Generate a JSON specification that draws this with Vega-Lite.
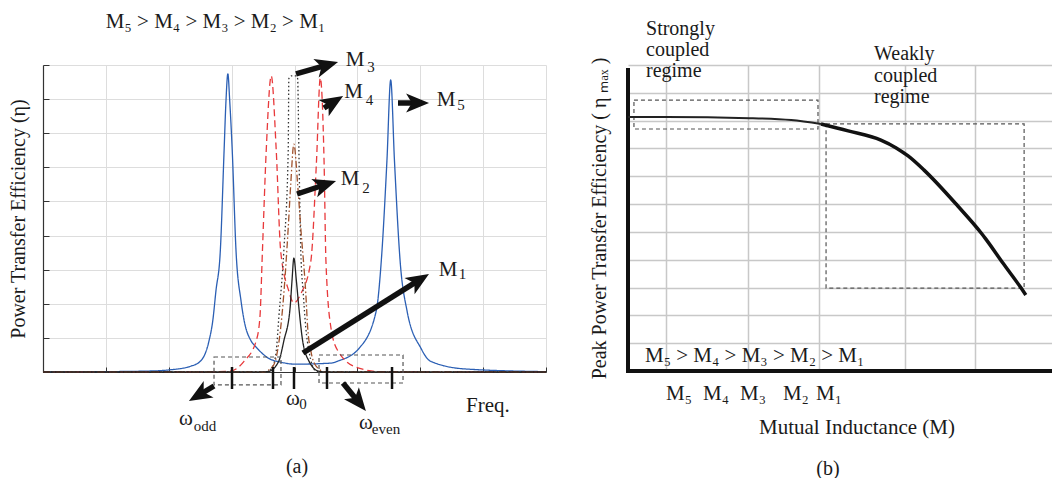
{
  "$schema": "https://vega.github.io/schema/vega-lite/v6.json",
  "background": "white",
  "padding": {"left": 8, "top": 11, "right": 0, "bottom": 0},
  "config": {"view": {"stroke": null}, "font": "Liberation Serif", "text": {"font": "Liberation Serif", "color": "#1a1a1a"}},
  "spacing": 82,
  "bounds": "flush",
  "datasets": {
    "curves_a": [
      {"series":"M5","x":0,"y":0},{"series":"M5","x":1,"y":0.01},{"series":"M5","x":1.72,"y":0.03},{"series":"M5","x":2.0,"y":0.06},{"series":"M5","x":2.35,"y":0.17},{"series":"M5","x":2.51,"y":0.33},{"series":"M5","x":2.64,"y":0.91},{"series":"M5","x":2.70,"y":1.5},{"series":"M5","x":2.75,"y":2.37},{"series":"M5","x":2.82,"y":3.55},{"series":"M5","x":2.88,"y":6.48},{"series":"M5","x":2.91,"y":7.94},{"series":"M5","x":2.94,"y":8.74},{"series":"M5","x":2.97,"y":7.94},{"series":"M5","x":3.01,"y":6.48},{"series":"M5","x":3.07,"y":3.55},{"series":"M5","x":3.15,"y":2.08},{"series":"M5","x":3.20,"y":1.5},{"series":"M5","x":3.31,"y":0.91},{"series":"M5","x":3.39,"y":0.73},{"series":"M5","x":3.58,"y":0.41},{"series":"M5","x":3.78,"y":0.29},{"series":"M5","x":4.01,"y":0.23},{"series":"M5","x":4.58,"y":0.26},{"series":"M5","x":4.69,"y":0.32},{"series":"M5","x":5.03,"y":0.70},{"series":"M5","x":5.30,"y":1.79},{"series":"M5","x":5.38,"y":3.25},{"series":"M5","x":5.47,"y":6.19},{"series":"M5","x":5.53,"y":8.56},{"series":"M5","x":5.59,"y":6.19},{"series":"M5","x":5.68,"y":3.25},{"series":"M5","x":5.79,"y":1.79},{"series":"M5","x":6.01,"y":0.70},{"series":"M5","x":6.16,"y":0.32},{"series":"M5","x":6.71,"y":0.09},{"series":"M5","x":8,"y":0.01},
      {"series":"M4","x":0,"y":0},{"series":"M4","x":2.5,"y":0},{"series":"M4","x":2.99,"y":0.03},{"series":"M4","x":3.20,"y":0.32},{"series":"M4","x":3.39,"y":0.91},{"series":"M4","x":3.45,"y":1.6},{"series":"M4","x":3.49,"y":3.55},{"series":"M4","x":3.55,"y":6.48},{"series":"M4","x":3.63,"y":8.68},{"series":"M4","x":3.71,"y":6.48},{"series":"M4","x":3.78,"y":3.55},{"series":"M4","x":3.91,"y":2.37},{"series":"M4","x":3.99,"y":2.02},{"series":"M4","x":4.10,"y":2.29},{"series":"M4","x":4.26,"y":3.25},{"series":"M4","x":4.35,"y":6.19},{"series":"M4","x":4.41,"y":8.62},{"series":"M4","x":4.47,"y":6.19},{"series":"M4","x":4.50,"y":3.25},{"series":"M4","x":4.58,"y":1.29},{"series":"M4","x":4.69,"y":0.62},{"series":"M4","x":5.01,"y":0.12},{"series":"M4","x":5.38,"y":0.01},{"series":"M4","x":8,"y":0},
      {"series":"M3","x":0,"y":0},{"series":"M3","x":3.55,"y":0},{"series":"M3","x":3.65,"y":0.15},{"series":"M3","x":3.71,"y":0.62},{"series":"M3","x":3.75,"y":1.58},{"series":"M3","x":3.83,"y":3.55},{"series":"M3","x":3.90,"y":6.48},{"series":"M3","x":3.91,"y":8.6},{"series":"M3","x":3.95,"y":8.68},{"series":"M3","x":4.03,"y":8.68},{"series":"M3","x":4.05,"y":8.6},{"series":"M3","x":4.07,"y":6.48},{"series":"M3","x":4.10,"y":3.55},{"series":"M3","x":4.14,"y":2.29},{"series":"M3","x":4.18,"y":1.29},{"series":"M3","x":4.23,"y":0.62},{"series":"M3","x":4.34,"y":0.03},{"series":"M3","x":4.5,"y":0},{"series":"M3","x":8,"y":0},
      {"series":"M2","x":0,"y":0},{"series":"M2","x":3.5,"y":0},{"series":"M2","x":3.66,"y":0.18},{"series":"M2","x":3.73,"y":0.62},{"series":"M2","x":3.78,"y":1.29},{"series":"M2","x":3.83,"y":2.29},{"series":"M2","x":3.90,"y":4.22},{"series":"M2","x":3.94,"y":5.5},{"series":"M2","x":3.99,"y":6.68},{"series":"M2","x":4.05,"y":5.5},{"series":"M2","x":4.10,"y":4.22},{"series":"M2","x":4.18,"y":2.29},{"series":"M2","x":4.21,"y":1.29},{"series":"M2","x":4.26,"y":0.62},{"series":"M2","x":4.34,"y":0.18},{"series":"M2","x":4.5,"y":0},{"series":"M2","x":8,"y":0},
      {"series":"M1","x":0,"y":0},{"series":"M1","x":3.45,"y":0},{"series":"M1","x":3.59,"y":0.02},{"series":"M1","x":3.75,"y":0.32},{"series":"M1","x":3.83,"y":0.91},{"series":"M1","x":3.93,"y":1.88},{"series":"M1","x":3.96,"y":2.67},{"series":"M1","x":3.99,"y":3.34},{"series":"M1","x":4.03,"y":2.67},{"series":"M1","x":4.07,"y":1.88},{"series":"M1","x":4.13,"y":0.91},{"series":"M1","x":4.23,"y":0.32},{"series":"M1","x":4.39,"y":0.02},{"series":"M1","x":4.55,"y":0},{"series":"M1","x":8,"y":0}
    ],
    "arrows_a": [
      {"label":"M3","x":4.024,"y":8.737,"x2":4.498,"y2":8.986,"angle":74},
      {"label":"M4","x":4.469,"y":7.740,"x2":4.601,"y2":7.892,"angle":58},
      {"label":"M5","x":5.646,"y":7.886,"x2":5.937,"y2":7.886,"angle":90},
      {"label":"M2","x":4.040,"y":5.218,"x2":4.468,"y2":5.482,"angle":72},
      {"label":"M1","x":4.135,"y":0.557,"x2":5.967,"y2":2.677,"angle":58},
      {"label":"odd","x":2.720,"y":-0.410,"x2":2.495,"y2":-0.660,"angle":239},
      {"label":"even","x":4.771,"y":-0.322,"x2":5.008,"y2":-0.856,"angle":141}
    ],
    "boxes_a": [
      {"x":2.72,"x2":3.785,"y":0.44,"y2":-0.38},
      {"x":4.39,"x2":5.726,"y":0.498,"y2":-0.322}
    ],
    "ticks_a": [
      {"x":3.006,"y":0.147,"y2":-0.498},{"x":3.658,"y":0.147,"y2":-0.498},{"x":3.992,"y":0.147,"y2":-0.498},{"x":4.517,"y":0.147,"y2":-0.498},{"x":5.551,"y":0.147,"y2":-0.498}
    ],
    "labels_a": [
      {"text":"M₅ > M₄ > M₃ > M₂ >  M₁","x":2.744,"y":10.26},
      {"text":"M","x":4.962,"y":9.147},
      {"text":"M","x":4.938,"y":8.223},
      {"text":"M","x":6.410,"y":7.960},
      {"text":"M","x":4.883,"y":5.658},
      {"text":"M","x":6.441,"y":2.990},
      {"text":"ω","x":3.976,"y":-0.79},
      {"text":"ω","x":2.274,"y":-1.378},
      {"text":"ω","x":5.137,"y":-1.495},
      {"text":"Freq.","x":7.077,"y":-0.997}
    ],
    "captions_a": [
      {"text":"(a)","x":4.040,"y":-2.785}
    ],
    "subs_a": [
      {"text":"3","x":5.217,"y":8.942},
      {"text":"4","x":5.193,"y":7.974},
      {"text":"5","x":6.648,"y":7.828},
      {"text":"2","x":5.137,"y":5.394},
      {"text":"1","x":6.672,"y":2.873},
      {"text":"0","x":4.135,"y":-0.938},
      {"text":"odd","x":2.577,"y":-1.583},
      {"text":"even","x":5.455,"y":-1.671}
    ],
    "curve_b_strong": [
      {"x":0,"y":9.13},{"x":0.894,"y":9.13},{"x":2.85,"y":9.09},{"x":3.84,"y":9.02},{"x":4.54,"y":8.88}
    ],
    "curve_b_weak": [
      {"x":4.54,"y":8.88},{"x":5.18,"y":8.63},{"x":5.95,"y":8.30},{"x":6.31,"y":8.02},{"x":6.59,"y":7.73},{"x":6.96,"y":7.23},{"x":7.76,"y":5.93},{"x":8.31,"y":4.96},{"x":8.42,"y":4.74},{"x":8.82,"y":3.88},{"x":9.25,"y":2.98},{"x":9.36,"y":2.73}
    ],
    "axes_b": [
      {"x":0,"y":0,"x2":0,"y2":10.82},
      {"x":0,"y":0,"x2":9.976,"y2":0}
    ],
    "boxes_b": [
      {"x":0.14,"x2":4.47,"y":9.74,"y2":8.70},
      {"x":4.66,"x2":9.32,"y":8.88,"y2":2.98}
    ],
    "labels_b_center": [
      {"text":"M₅","x":1.20,"y":-0.827},
      {"text":"M₄","x":2.07,"y":-0.827},
      {"text":"M₃","x":2.94,"y":-0.827},
      {"text":"M₂","x":3.95,"y":-0.827},
      {"text":"M₁","x":4.73,"y":-0.827},
      {"text":"Mutual Inductance (M)","x":5.388,"y":-2.049}
    ],
    "captions_b": [
      {"text":"(b)","x":4.706,"y":-3.523}
    ],
    "labels_b_left": [
      {"text":"Strongly","x":0.424,"y":12.29},
      {"text":"coupled","x":0.424,"y":11.54},
      {"text":"regime","x":0.424,"y":10.78},
      {"text":"Weakly","x":5.788,"y":11.39},
      {"text":"coupled","x":5.788,"y":10.62},
      {"text":"regime","x":5.788,"y":9.85}
    ],
    "order_b": [
      {"text":"M₅ > M₄ > M₃ > M₂ >  M₁","x":0.40,"y":0.539}
    ]
  },
  "hconcat": [
    {
      "width": 503,
      "height": 307,
      "encoding": {
        "x": {"field":"x","type":"quantitative","scale":{"domain":[0,8],"nice":false,"zero":false},
              "axis":{"values":[0,1,2,3,4,5,6,7,8],"grid":true,"gridColor":"#dddddd","gridWidth":1,"labels":false,"ticks":true,"tickSize":-5,"tickColor":"#333","tickWidth":1,"domain":true,"domainColor":"#333","domainWidth":1.2,"title":null}},
        "y": {"field":"y","type":"quantitative","scale":{"domain":[0,9],"nice":false,"zero":false},
              "axis":{"values":[0,1,2,3,4,5,6,7,8,9],"grid":true,"gridColor":"#dddddd","gridWidth":1,"labels":false,"ticks":true,"tickSize":-6,"tickColor":"#333","tickWidth":1,"domain":true,"domainColor":"#333","domainWidth":1.2,
                      "title":"Power Transfer Efficiency (η)","titleFont":"Liberation Serif","titleFontSize":20,"titleFontWeight":"normal","titleColor":"#1a1a1a","titlePadding":14}}
      },
      "layer": [
        {
          "data": {"name":"curves_a"},
          "mark": {"type":"line","interpolate":"monotone","strokeWidth":1.3},
          "encoding": {
            "color": {"field":"series","type":"nominal","legend":null,"scale":{"domain":["M5","M4","M3","M2","M1"],"range":["#2b5fb4","#e8393b","#333333","#a0522d","#222222"]}},
            "strokeDash": {"field":"series","type":"nominal","legend":null,"scale":{"domain":["M5","M4","M3","M2","M1"],"range":[[1,0],[7,4],[1.5,2.5],[7,2.5,1.5,2.5],[1,0]]}}
          }
        },
        {
          "data": {"name":"boxes_a"},
          "mark": {"type":"rect","filled":false,"stroke":"#555","strokeWidth":1.2,"strokeDash":[4,3]},
          "encoding": {"x2":{"field":"x2"},"y2":{"field":"y2"}}
        },
        {
          "data": {"name":"ticks_a"},
          "mark": {"type":"rule","color":"#111","strokeWidth":2.5},
          "encoding": {"y2":{"field":"y2"}}
        },
        {
          "data": {"name":"arrows_a"},
          "mark": {"type":"rule","color":"#111","strokeWidth":5.5},
          "encoding": {"x2":{"field":"x2"},"y2":{"field":"y2"}}
        },
        {
          "data": {"name":"arrows_a"},
          "mark": {"type":"point","shape":"M0,-1L0.75,0.8L0,0.35L-0.75,0.8Z","filled":true,"color":"#111","opacity":1,"size":650},
          "encoding": {"x":{"field":"x2","type":"quantitative"},"y":{"field":"y2","type":"quantitative"},"angle":{"field":"angle","type":"quantitative","scale":null}}
        },
        {
          "data": {"name":"labels_a"},
          "mark": {"type":"text","font":"Liberation Serif","fontSize":21,"align":"center","baseline":"middle","color":"#1a1a1a"},
          "encoding": {"text":{"field":"text"}}
        },
        {
          "data": {"name":"captions_a"},
          "mark": {"type":"text","font":"Liberation Serif","fontSize":20,"align":"center","baseline":"middle","color":"#1a1a1a"},
          "encoding": {"text":{"field":"text"}}
        },
        {
          "data": {"name":"subs_a"},
          "mark": {"type":"text","font":"Liberation Serif","fontSize":15,"align":"center","baseline":"middle","color":"#1a1a1a"},
          "encoding": {"text":{"field":"text"}}
        }
      ]
    },
    {
      "width": 424,
      "height": 306,
      "encoding": {
        "x": {"field":"x","type":"quantitative","scale":{"domain":[0,9.976],"nice":false,"zero":false},
              "axis":{"values":[0.894,2.824,4.494,6.518,8.165],"grid":true,"gridColor":"#c8c8c8","gridWidth":1.5,"labels":false,"ticks":false,"domain":false,"title":null}},
        "y": {"field":"y","type":"quantitative","scale":{"domain":[0,11],"nice":false,"zero":false},
              "axis":{"values":[0,1,2,3,4,5,6,7,8,9,10,11],"grid":true,"gridColor":"#c8c8c8","gridWidth":1.5,"labels":false,"ticks":false,"domain":false,
                      "title":"Peak Power Transfer Efficiency ( η ₘₐₓ )","titleFont":"Liberation Serif","titleFontSize":20,"titleFontWeight":"normal","titleColor":"#1a1a1a","titlePadding":19}}
      },
      "layer": [
        {
          "data": {"name":"boxes_b"},
          "mark": {"type":"rect","filled":false,"stroke":"#555","strokeWidth":1.2,"strokeDash":[4,3]},
          "encoding": {"x2":{"field":"x2"},"y2":{"field":"y2"}}
        },
        {
          "data": {"name":"axes_b"},
          "mark": {"type":"rule","color":"#111","strokeWidth":4,"strokeCap":"square"},
          "encoding": {"x2":{"field":"x2"},"y2":{"field":"y2"}}
        },
        {
          "data": {"name":"curve_b_strong"},
          "mark": {"type":"line","interpolate":"monotone","color":"#222","strokeWidth":2},
          "encoding": {}
        },
        {
          "data": {"name":"curve_b_weak"},
          "mark": {"type":"line","interpolate":"monotone","color":"#111","strokeWidth":3.5},
          "encoding": {}
        },
        {
          "data": {"name":"labels_b_center"},
          "mark": {"type":"text","font":"Liberation Serif","fontSize":21,"align":"center","baseline":"middle","color":"#1a1a1a"},
          "encoding": {"text":{"field":"text"}}
        },
        {
          "data": {"name":"captions_b"},
          "mark": {"type":"text","font":"Liberation Serif","fontSize":20,"align":"center","baseline":"middle","color":"#1a1a1a"},
          "encoding": {"text":{"field":"text"}}
        },
        {
          "data": {"name":"labels_b_left"},
          "mark": {"type":"text","font":"Liberation Serif","fontSize":20,"align":"left","baseline":"middle","color":"#1a1a1a"},
          "encoding": {"text":{"field":"text"}}
        },
        {
          "data": {"name":"order_b"},
          "mark": {"type":"text","font":"Liberation Serif","fontSize":21,"align":"left","baseline":"middle","color":"#1a1a1a"},
          "encoding": {"text":{"field":"text"}}
        }
      ]
    }
  ]
}
